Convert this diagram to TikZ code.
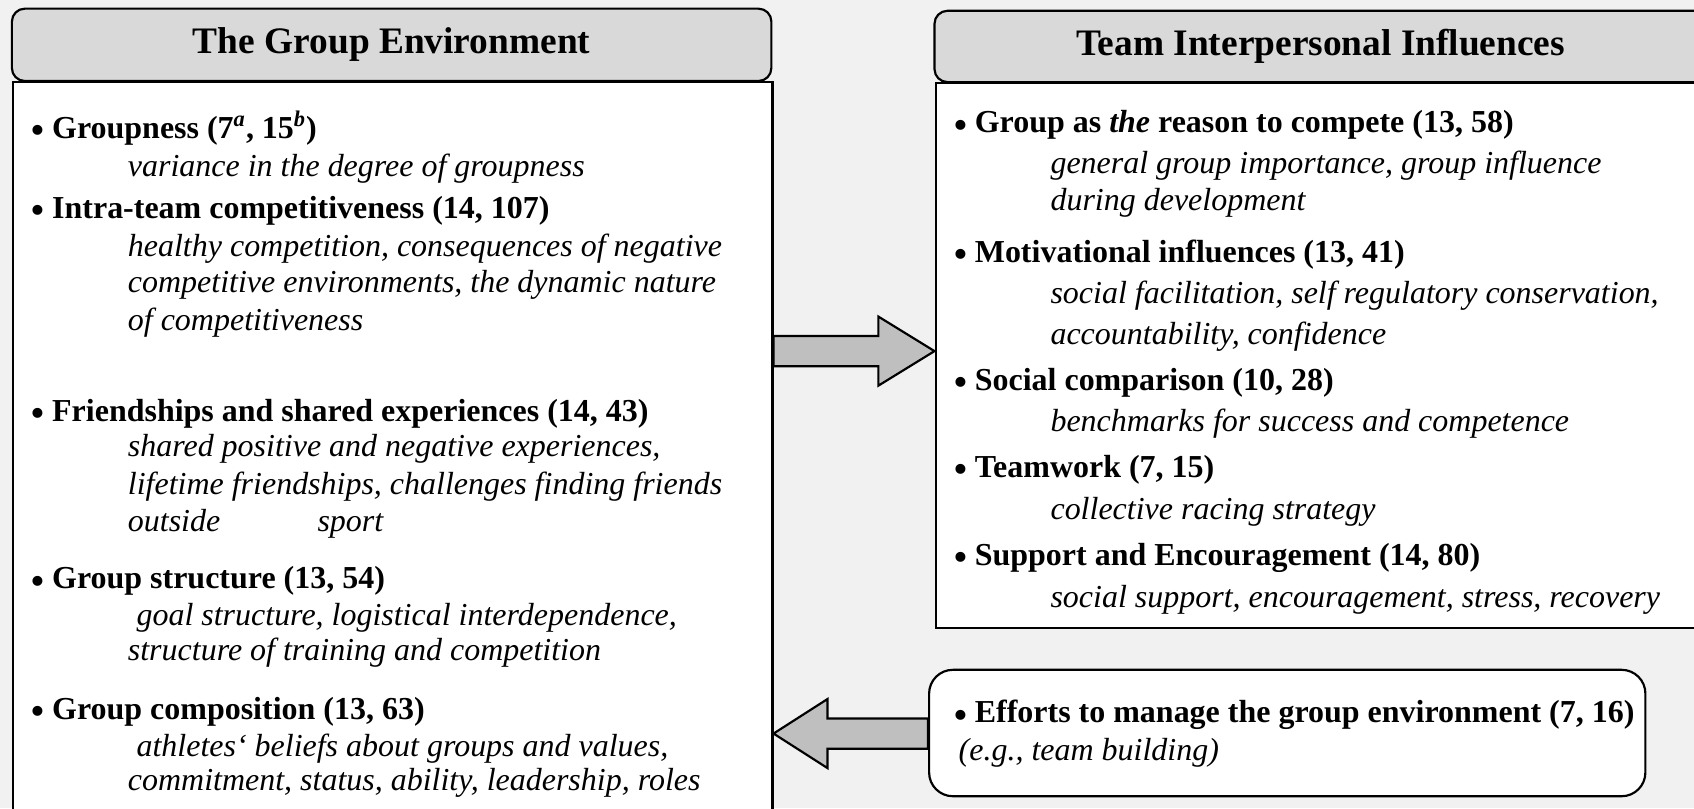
\documentclass[tikz,border=0pt]{standalone}
\usepackage{fontspec}
\setmainfont{Liberation Serif}
\usetikzlibrary{calc}
\definecolor{bgc}{RGB}{241,241,241}
\definecolor{hdrc}{RGB}{217,217,217}
\definecolor{arwc}{RGB}{191,191,191}
\newcommand\mybul{{\fontsize{17}{17}\selectfont\raisebox{-2pt}{\textbullet}}\hspace{3.5pt}}
\begin{document}
\begin{tikzpicture}[x=0.5pt,y=-0.5pt,
  itm/.style={anchor=base west, inner sep=0pt, font=\bfseries\fontsize{14.8}{17}\selectfont},
  dsc/.style={anchor=base west, inner sep=0pt, font=\itshape\fontsize{14.8}{17}\selectfont},
  hdrbox/.style={draw, line width=1pt, fill=hdrc, rounded corners=6pt, inner sep=0pt,
    font=\bfseries\fontsize{17.3}{20}\selectfont},
  bodybox/.style={draw, line width=1pt, fill=white, inner sep=0pt},
  blockarrow/.style={draw, line width=1pt, fill=arwc, line join=miter}]
\useasboundingbox (0,0) rectangle (1568,748);
\clip (0,0) rectangle (1568,748);
\fill[bgc] (0,0) rectangle (1568,748);

% left box
\node[bodybox, anchor=north west, minimum width=351.5pt, minimum height=350pt] (leftbody) at (11,75) {};
\node[hdrbox, minimum width=351.5pt, minimum height=33.5pt] (lefthead) at (362.5,41.5) {The Group Environment};

% right box
\node[bodybox, anchor=north west, minimum width=357.5pt, minimum height=252pt] (rightbody) at (865,76) {};
\node[hdrbox, minimum width=357.5pt, minimum height=33pt] (righthead) at (1222.5,43) {Team Interpersonal Influences};

% efforts box
\node[bodybox, rounded corners=11pt, minimum width=331.5pt, minimum height=58.5pt] (effbox) at (1191.5,678.5) {};

% arrows
\coordinate (ra) at (leftbody.east |- 0,325);
\coordinate (rb) at (rightbody.west |- 0,325);
\draw[blockarrow] ($(ra)+(0,-14)$) -- ($(rb)+(-52,-14)$) -- ($(rb)+(-52,-32)$) -- (rb)
  -- ($(rb)+(-52,32)$) -- ($(rb)+(-52,14)$) -- ($(ra)+(0,14)$) -- cycle;
\coordinate (la) at (effbox.west |- 0,679);
\coordinate (lb) at (leftbody.east |- 0,679);
\draw[blockarrow] ($(la)+(0,-14)$) -- ($(lb)+(50,-14)$) -- ($(lb)+(50,-32)$) -- (lb)
  -- ($(lb)+(50,32)$) -- ($(lb)+(50,14)$) -- ($(la)+(0,14)$) -- cycle;

% left texts
\node[itm] (g1) at (29,128) {\mybul Groupness (7\textsuperscript{\textit{a}}, 15\textsuperscript{\textit{b}})};
\node[dsc] (g1a) at (118,163) {variance in the degree of groupness};
\node[itm] (g2) at (29,202) {\mybul Intra-team competitiveness (14, 107)};
\node[dsc] (g2a) at (118,237) {healthy competition, consequences of negative};
\node[dsc] (g2b) at (118,271) {competitive environments, the dynamic nature};
\node[dsc] (g2c) at (118,306) {of competitiveness};
\node[itm] (g3) at (29,390) {\mybul Friendships and shared experiences (14, 43)};
\node[dsc] (g3a) at (118,423) {shared positive and negative experiences,};
\node[dsc] (g3b) at (118,458) {lifetime friendships, challenges finding friends};
\node[dsc] (g3c) at (118,492) {outside\hspace{45pt}sport};
\node[itm] (g4) at (29,545) {\mybul Group structure (13, 54)};
\node[dsc] (g4a) at (126,579) {goal structure, logistical interdependence,};
\node[dsc] (g4b) at (118,611) {structure of training and competition};
\node[itm] (g5) at (29,666) {\mybul Group composition (13, 63)};
\node[dsc] (g5a) at (126,700) {athletes‘ beliefs about groups and values,};
\node[dsc] (g5b) at (118,732) {commitment, status, ability, leadership, roles};

% right texts
\node[itm] (t1) at (883,123) {\mybul Group as \textit{the} reason to compete (13, 58)};
\node[dsc] (t1a) at (972,161) {general group importance, group influence};
\node[dsc] (t1b) at (972,195) {during development};
\node[itm] (t2) at (883,243) {\mybul Motivational influences (13, 41)};
\node[dsc] (t2a) at (972,281) {social facilitation, self regulatory conservation,};
\node[dsc] (t2b) at (972,319) {accountability, confidence};
\node[itm] (t3) at (883,361) {\mybul Social comparison (10, 28)};
\node[dsc] (t3a) at (972,399) {benchmarks for success and competence};
\node[itm] (t4) at (883,442) {\mybul Teamwork (7, 15)};
\node[dsc] (t4a) at (972,481) {collective racing strategy};
\node[itm] (t5) at (883,523) {\mybul Support and Encouragement (14, 80)};
\node[dsc] (t5a) at (972,562) {social support, encouragement, stress, recovery};

% efforts texts
\node[itm] (e1) at (883,669) {\mybul Efforts to manage the group environment (7, 16)};
\node[dsc] (e1a) at (887,704) {(e.g., team building)};
\end{tikzpicture}
\end{document}
